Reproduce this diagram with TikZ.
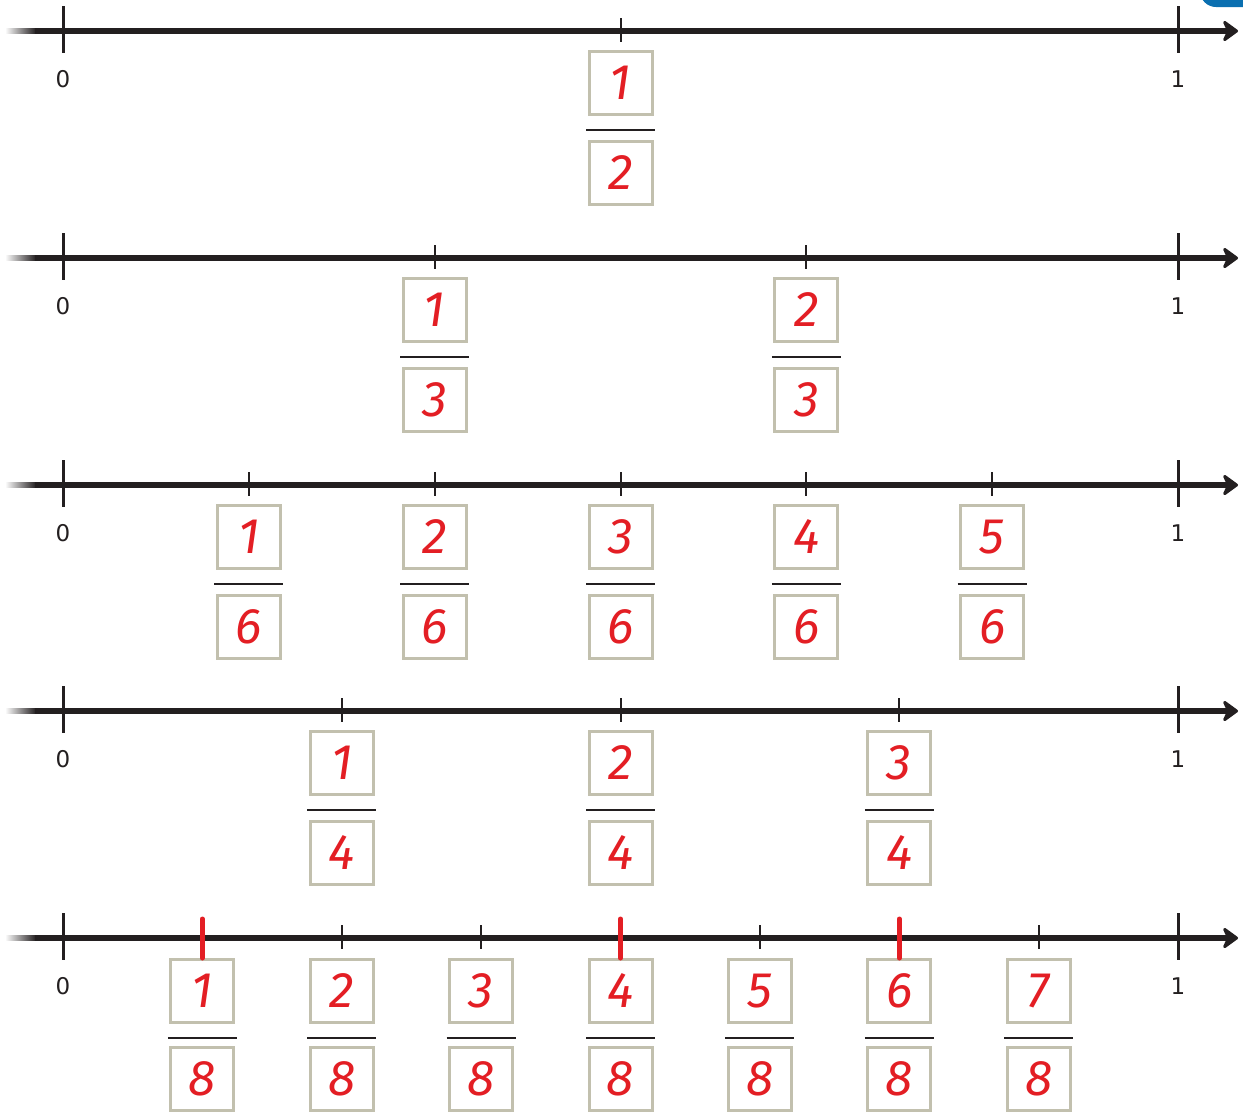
\documentclass[tikz,border=0pt]{standalone}
\usepackage{fontspec}
\setsansfont{DejaVu Sans}
\newfontfamily\handfont{Fira Sans}
\usetikzlibrary{arrows.meta, positioning, calc}
\definecolor{inkblack}{RGB}{35,31,32}
\definecolor{boxgrey}{RGB}{194,192,174}
\definecolor{markred}{RGB}{227,30,36}
\definecolor{tabblue}{RGB}{10,111,176}

\begin{document}
\begin{tikzpicture}[x=1pt, y=-1pt,
  every node/.style={font=\sffamily\fontsize{23}{23}\selectfont, text=inkblack},
  axis/.style={line width=5.5pt, inkblack, -{Stealth[length=18pt, width=26pt, inset=6pt, round]}},
  endtick/.style={line width=3pt, inkblack},
  subtick/.style={line width=2pt, inkblack},
  redtick/.style={line width=5pt, markred, line cap=round},
  numbox/.style={draw=boxgrey, line width=3pt, minimum size=63pt, inner sep=0pt,
    font=\handfont\itshape\fontsize{50}{50}\selectfont, text=markred},
  fracbar/.style={line width=2pt, inkblack}]

  \useasboundingbox (0,0) rectangle (1243,1112);

  % corner tab
  \begin{scope}
    \clip (0,0) rectangle (1243,1112);
    \fill[tabblue, rounded corners=16pt] (1200,-40) rectangle (1290,7);
  \end{scope}

  % ---------- Halves ----------
  \begin{scope}[shift={(0,31)}]
    \coordinate (hs) at (35,0);
    \coordinate (he) at (1238,0);
    \shade[left color=white, right color=inkblack] (5,-2.75) rectangle (36,2.75);
    \draw[axis] (hs) -- (he);
    \draw[endtick] (63,-25) -- (63,22);
    \draw[endtick] (1178,-25) -- (1178,22);
    \node (h0) at (63,48) {0};
    \node (h1) at (1178,48) {1};
    \foreach \n in {1}{
      \pgfmathsetmacro{\xx}{63+1115*\n/2}
      \draw[subtick] (\xx,-13) -- (\xx,11);
      \node[numbox] (ht\n) at (\xx,52) {\n};
      \node[numbox] (hb\n) at (\xx,142) {2};
      \draw[fracbar] ($(ht\n.south west)+(-1.5,13.5)$) -- ($(ht\n.south east)+(1.5,13.5)$);
    }
  \end{scope}

  % ---------- Thirds ----------
  \begin{scope}[shift={(0,258)}]
    \coordinate (ts) at (35,0);
    \coordinate (te) at (1238,0);
    \shade[left color=white, right color=inkblack] (5,-2.75) rectangle (36,2.75);
    \draw[axis] (ts) -- (te);
    \draw[endtick] (63,-25) -- (63,22);
    \draw[endtick] (1178,-25) -- (1178,22);
    \node (t0) at (63,48) {0};
    \node (t1) at (1178,48) {1};
    \foreach \n in {1,2}{
      \pgfmathsetmacro{\xx}{63+1115*\n/3}
      \draw[subtick] (\xx,-13) -- (\xx,11);
      \node[numbox] (tt\n) at (\xx,52) {\n};
      \node[numbox] (tb\n) at (\xx,142) {3};
      \draw[fracbar] ($(tt\n.south west)+(-1.5,13.5)$) -- ($(tt\n.south east)+(1.5,13.5)$);
    }
  \end{scope}

  % ---------- Sixths ----------
  \begin{scope}[shift={(0,485)}]
    \coordinate (ss) at (35,0);
    \coordinate (se) at (1238,0);
    \shade[left color=white, right color=inkblack] (5,-2.75) rectangle (36,2.75);
    \draw[axis] (ss) -- (se);
    \draw[endtick] (63,-25) -- (63,22);
    \draw[endtick] (1178,-25) -- (1178,22);
    \node (s0) at (63,48) {0};
    \node (s1) at (1178,48) {1};
    \foreach \n in {1,...,5}{
      \pgfmathsetmacro{\xx}{63+1115*\n/6}
      \draw[subtick] (\xx,-13) -- (\xx,11);
      \node[numbox] (st\n) at (\xx,52) {\n};
      \node[numbox] (sb\n) at (\xx,142) {6};
      \draw[fracbar] ($(st\n.south west)+(-1.5,13.5)$) -- ($(st\n.south east)+(1.5,13.5)$);
    }
  \end{scope}

  % ---------- Quarters ----------
  \begin{scope}[shift={(0,711)}]
    \coordinate (qs) at (35,0);
    \coordinate (qe) at (1238,0);
    \shade[left color=white, right color=inkblack] (5,-2.75) rectangle (36,2.75);
    \draw[axis] (qs) -- (qe);
    \draw[endtick] (63,-25) -- (63,22);
    \draw[endtick] (1178,-25) -- (1178,22);
    \node (q0) at (63,48) {0};
    \node (q1) at (1178,48) {1};
    \foreach \n in {1,2,3}{
      \pgfmathsetmacro{\xx}{63+1115*\n/4}
      \draw[subtick] (\xx,-13) -- (\xx,11);
      \node[numbox] (qt\n) at (\xx,52) {\n};
      \node[numbox] (qb\n) at (\xx,142) {4};
      \draw[fracbar] ($(qt\n.south west)+(-1.5,13.5)$) -- ($(qt\n.south east)+(1.5,13.5)$);
    }
  \end{scope}

  % ---------- Eighths ----------
  \begin{scope}[shift={(0,938)}]
    \coordinate (es) at (35,0);
    \coordinate (ee) at (1238,0);
    \shade[left color=white, right color=inkblack] (5,-2.75) rectangle (36,2.75);
    \draw[axis] (es) -- (ee);
    \draw[endtick] (63,-25) -- (63,22);
    \draw[endtick] (1178,-25) -- (1178,22);
    \node (e0) at (63,48) {0};
    \node (e1) at (1178,48) {1};
    \foreach \n in {1,...,7}{
      \pgfmathsetmacro{\xx}{63+1115*\n/8}
      \draw[subtick] (\xx,-13) -- (\xx,11);
      \node[numbox] (et\n) at (\xx,53) {\n};
      \node[numbox] (eb\n) at (\xx,141) {8};
      \draw[fracbar] ($(et\n.south west)+(-1.5,13.5)$) -- ($(et\n.south east)+(1.5,13.5)$);
    }
    \foreach \n in {1,4,6}{
      \pgfmathsetmacro{\xx}{63+1115*\n/8}
      \draw[redtick] (\xx,-19) -- (\xx,20);
    }
  \end{scope}
\end{tikzpicture}
\end{document}
